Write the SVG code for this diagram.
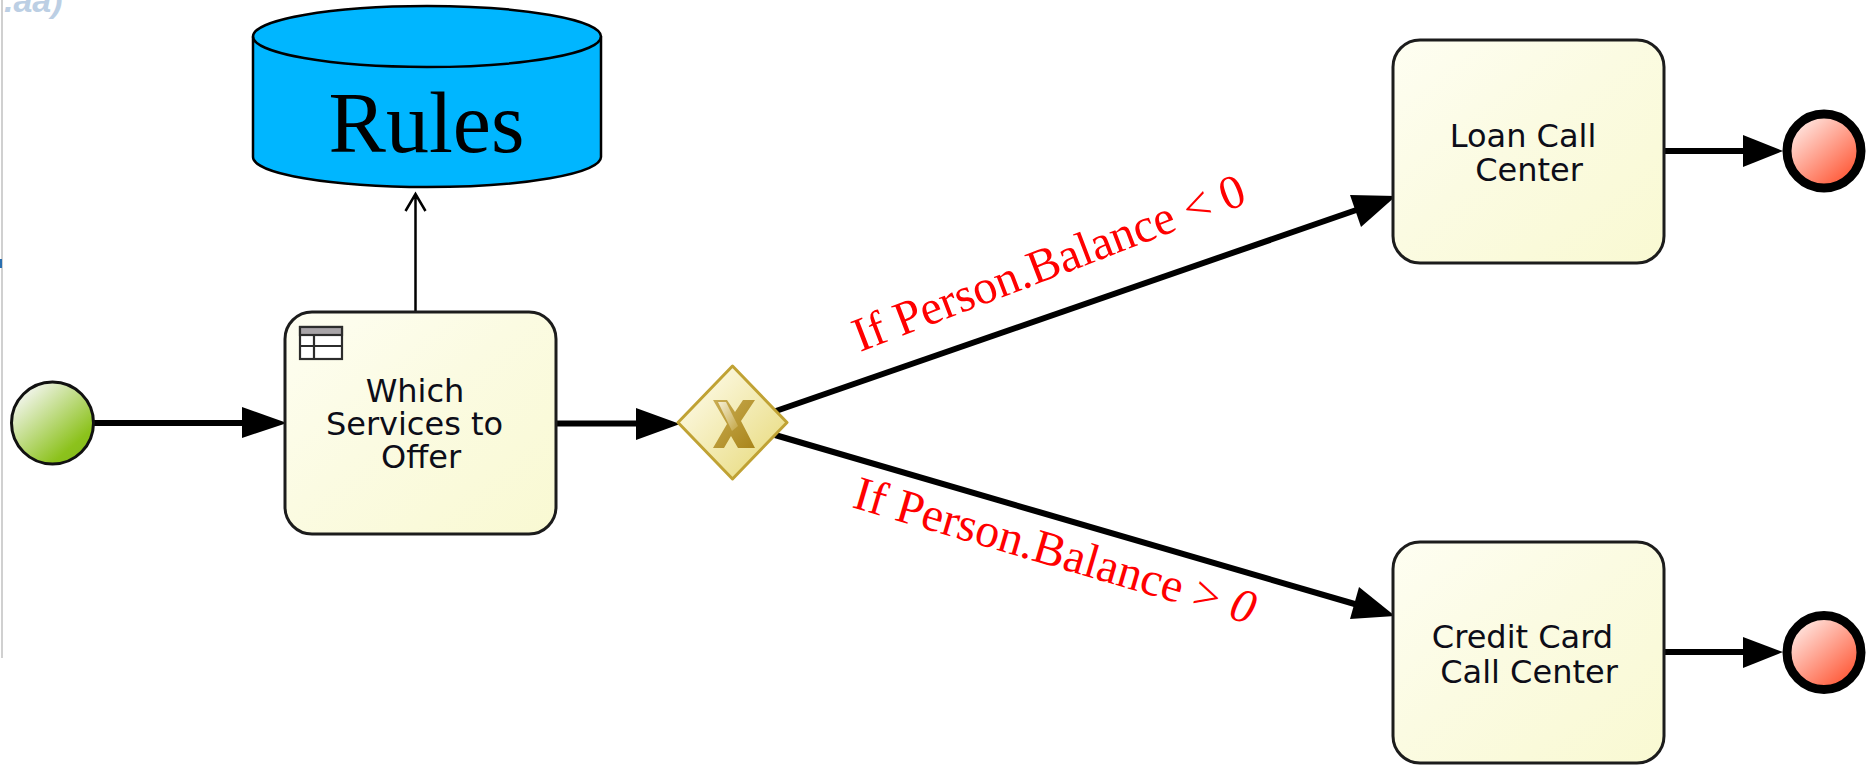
<svg xmlns="http://www.w3.org/2000/svg" width="1872" height="765" viewBox="0 0 1872 765">
<style>
.task{stroke:#1c1c1c;stroke-width:3}
.lbl{font-family:"DejaVu Sans",Verdana,sans-serif;font-size:32px;fill:#0d0d18}
.cond{font-family:"Liberation Serif","Times New Roman",serif;font-size:48px;fill:#f00}
.flow{fill:none;stroke:#000;stroke-width:6}
.head{fill:#000}
.end{fill:url(#gEnd);stroke:#000;stroke-width:9}
</style>
<defs>
<linearGradient id="gTask" x1="0" y1="0" x2="1" y2="1"><stop offset="0" stop-color="#fefef2"/><stop offset="0.45" stop-color="#fbfbe2"/><stop offset="1" stop-color="#f9f9d2"/></linearGradient>
<linearGradient id="gStart" x1="0.15" y1="0.1" x2="0.85" y2="0.9"><stop offset="0" stop-color="#f4f6f0"/><stop offset="0.85" stop-color="#8cc21c"/><stop offset="1" stop-color="#86bd1c"/></linearGradient>
<linearGradient id="gEnd" x1="0.15" y1="0.1" x2="0.85" y2="0.9"><stop offset="0" stop-color="#ffe9e4"/><stop offset="1" stop-color="#ff5533"/></linearGradient>
<linearGradient id="gGate" x1="0.2" y1="0.2" x2="0.8" y2="0.8"><stop offset="0" stop-color="#fbf7dc"/><stop offset="1" stop-color="#ebdf8c"/></linearGradient>
<linearGradient id="gX" x1="0" y1="0" x2="1" y2="1"><stop offset="0" stop-color="#c9ac52"/><stop offset="1" stop-color="#a9851a"/></linearGradient>
<linearGradient id="gXb" x1="0" y1="0" x2="1" y2="1"><stop offset="0" stop-color="#f5efd4"/><stop offset="1" stop-color="#c3a544"/></linearGradient>
</defs>
<g id="frame">
<rect x="1" y="0" width="2" height="658" fill="#d0d0d0"/>
<rect x="0" y="259" width="2" height="9" fill="#2a6fb0"/>
<text x="4" y="12" font-family="'Liberation Sans',Arial,sans-serif" font-size="34" font-weight="700" font-style="italic" fill="#bccfe4">.aa)</text>
</g>
<g id="connectors">
<path class="flow" d="M93 423H246"/><polygon class="head" points="287,423 242,407 242,438"/>
<path class="flow" d="M557 423.500H640"/><polygon class="head" points="680,424 636,408 636,440"/>
<path class="flow" d="M773 412L1365 207"/><polygon class="head" points="1396,196 1350,195 1361,227"/>
<path class="flow" d="M775 435L1365 607"/><polygon class="head" points="1395,616 1359,587 1350,619"/>
<path class="flow" d="M1664 151H1747"/><polygon class="head" points="1783,151 1743,135 1743,167"/>
<path class="flow" d="M1664 652H1747"/><polygon class="head" points="1783,652 1743,637 1743,668"/>
<path fill="none" stroke="#000" stroke-width="2.500" d="M415.500 311V194M405.500 211L415.500 194L425.500 211"/>
</g>
<g id="rules">
<path d="M253 36.500V157A174 30 0 0 0 601 157V36.500A174 30.500 0 0 0 253 36.500Z" fill="#00b6ff" stroke="#000" stroke-width="2.500"/>
<path d="M253 36.500A174 30.500 0 0 0 601 36.500" fill="none" stroke="#000" stroke-width="2.500"/>
<text x="426.500" y="152" text-anchor="middle" font-family="'Liberation Serif','Times New Roman',serif" font-size="86" fill="#000">Rules</text>
</g>
<g id="start"><circle cx="52.500" cy="423" r="41" fill="url(#gStart)" stroke="#111" stroke-width="3"/></g>
<g id="task-services">
<rect class="task" x="285" y="312" width="271" height="222" rx="27" fill="url(#gTask)"/>
<g id="table-icon" fill="none" stroke="#2c2c2c" stroke-width="2.200">
<rect x="300" y="327" width="42" height="32" fill="#fff"/>
<rect x="300" y="327" width="42" height="8" fill="#a8a4a8"/>
<path d="M300 346H342M314 335V359"/>
</g>
<text class="lbl" text-anchor="middle"><tspan x="415" y="402">Which</tspan><tspan x="414.500" y="435">Services to</tspan><tspan x="421" y="468">Offer</tspan></text>
</g>
<g id="gateway">
<polygon points="732.500,366 787,422.500 732.500,479 678,422.500" fill="url(#gGate)" stroke="#c0a234" stroke-width="3" stroke-linejoin="round"/>
<polygon points="713,400 727,400 735,412 743,400 755,400 741,421 755,448 738,448 731,436 724,448 713,448 727,424" fill="url(#gX)"/>
<polygon points="718,402 726,402 738,426 732,431" fill="url(#gXb)"/>
</g>
<g id="task-loan">
<rect class="task" x="1393" y="40" width="271" height="223" rx="27" fill="url(#gTask)"/>
<text class="lbl" text-anchor="middle"><tspan x="1523" y="147">Loan Call</tspan><tspan x="1529" y="181">Center</tspan></text>
</g>
<g id="task-credit">
<rect class="task" x="1393" y="542" width="271" height="221" rx="27" fill="url(#gTask)"/>
<text class="lbl" text-anchor="middle"><tspan x="1522.500" y="648">Credit Card</tspan><tspan x="1529" y="683">Call Center</tspan></text>
</g>
<g id="end-loan"><circle class="end" cx="1824" cy="151" r="37"/></g>
<g id="end-credit"><circle class="end" cx="1824" cy="652.500" r="37"/></g>
<g id="labels">
<text class="cond" transform="translate(860 352) rotate(-21)">If Person.Balance &lt; 0</text>
<text class="cond" transform="translate(851 507) rotate(16.400)">If Person.Balance &gt; <tspan font-style="italic">0</tspan></text>
</g>
</svg>
